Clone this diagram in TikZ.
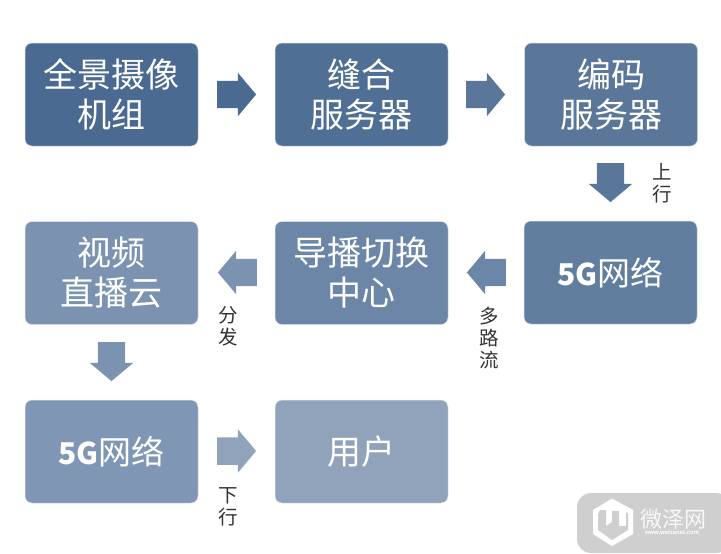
\documentclass[tikz,border=0pt]{standalone}
\usepackage{fontspec}
\setmainfont{Liberation Sans}
\newfontfamily\cjk{Noto Sans CJK SC}
\usetikzlibrary{shapes.arrows}
\newcommand{\shaftw}{\rule{27pt}{27pt}}
\newcommand{\fiveg}{{\fontsize{30}{40}\selectfont\textbf{5G}}网络}
\tikzset{
  x=1pt,y=-1pt,
  flowbox/.style={rounded corners=7pt,minimum width=173pt,minimum height=103pt,inner sep=0pt,align=center,text=white,font=\cjk\fontsize{34}{40}\selectfont,draw=white!75!#1,line width=0.5pt,fill=#1},
  blockarrow/.style={single arrow,single arrow tip angle=100,single arrow head extend=8pt,single arrow head indent=0pt,minimum height=37pt,minimum width=43pt,inner sep=0pt,fill=#1,text=#1,anchor=tail},
  sidelabel/.style={font=\cjk\fontsize{19.5}{22}\selectfont,text=black!80,align=center,inner sep=0pt},
  fivegbox/.style={font=\cjk\fontsize{33}{40}\selectfont},
}
\definecolor{ca}{HTML}{4A6A91}
\definecolor{cb}{HTML}{4F6F95}
\definecolor{cc}{HTML}{5A7799}
\definecolor{cd}{HTML}{617E9F}
\definecolor{ce}{HTML}{6B86A7}
\definecolor{cf}{HTML}{7B93B1}
\definecolor{cg}{HTML}{7F97B5}
\definecolor{ch}{HTML}{90A3BB}
\definecolor{wm}{HTML}{CFCFCF}
\begin{document}
\begin{tikzpicture}
\useasboundingbox (0,0) rectangle (721,554);
\node[flowbox=ca] (n1) at (111.5,94.5) {\raisebox{1.5pt}{全景摄像}\\\raisebox{1.5pt}{机组}};
\node[flowbox=cb] (n2) at (361.5,94.5) {\raisebox{1.5pt}{缝合}\\\raisebox{1.5pt}{服务器}};
\node[flowbox=cc] (n3) at (611,94.5) {\raisebox{1.5pt}{编码}\\\raisebox{1.5pt}{服务器}};
\node[flowbox=cd,fivegbox] (n4) at (610.5,272.5) {\fiveg};
\node[flowbox=ce] (n5) at (361.5,273) {\raisebox{1.5pt}{导播切换}\\\raisebox{1.5pt}{中心}};
\node[flowbox=cf] (n6) at (111.5,273) {\raisebox{1.5pt}{视频}\\\raisebox{1.5pt}{直播云}};
\node[flowbox=cg,fivegbox] (n7) at (111.5,451.5) {\fiveg};
\node[flowbox=ch] (n8) at (361.5,451.5) {\raisebox{1.5pt}{用户}};
\node[blockarrow=ca] (a1) at (217,94.5) {\shaftw};
\node[blockarrow=cc] (a2) at (466,94.5) {\shaftw};
\node[blockarrow=cc,shape border rotate=270] (a3) at (610.5,163) {\shaftw};
\node[blockarrow=ce,shape border rotate=180] (a4) at (506,272.5) {\shaftw};
\node[blockarrow=cf,shape border rotate=180] (a5) at (257,272.5) {\shaftw};
\node[blockarrow=cf,shape border rotate=270] (a6) at (111.5,342) {\shaftw};
\node[blockarrow=ch] (a7) at (217,451) {\shaftw};
\node[sidelabel] (l1) at (662,183) {上\\行};
\node[sidelabel] (l2) at (228,326) {分\\发};
\node[sidelabel] (l3) at (489,338) {多\\路\\流};
\node[sidelabel] (l4) at (228,507) {下\\行};
% watermark
\fill[wm,rounded corners=14pt] (577,493) rectangle (730,553);
\fill[white] (612,498.5) -- (633,510) -- (633,534) -- (612,546) -- (593,534) -- (593,510) -- cycle;
\fill[wm] (600,510) -- (606,510) -- (606,526) -- (612,522) -- (612,511) -- (619,511) -- (619,526) -- (626,526) -- (626,512) -- (628,514) -- (628,530) -- (612,540) -- (598,530) -- (598,514) -- cycle;
\node[inner sep=0pt,text=white!85!wm,font=\cjk\fontsize{22}{24}\selectfont] (w1) at (673,519) {微泽网};
\node[inner sep=0pt,text=white,font=\fontsize{6}{6}\selectfont\bfseries] (w2) at (672,532) {www.weizenet.com};
\end{tikzpicture}
\end{document}
